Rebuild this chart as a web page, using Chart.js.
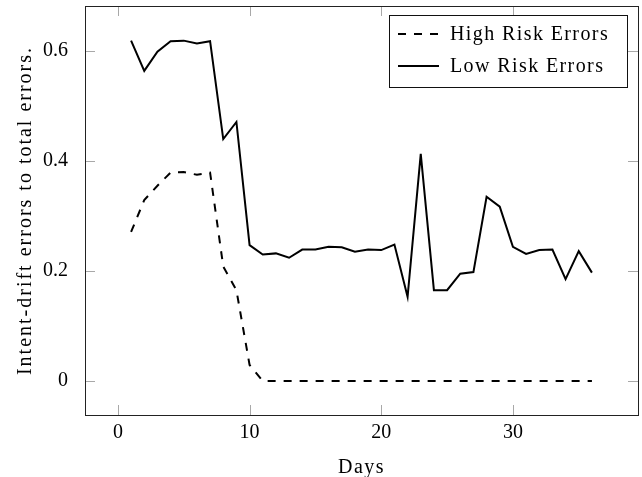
<!DOCTYPE html>
<html>
<head>
<meta charset="utf-8">
<script src="https://cdn.jsdelivr.net/npm/chart.js@4.4.1/dist/chart.umd.min.js"></script>
<style>
  html, body { margin: 0; padding: 0; background: #ffffff; }
  #wrap { width: 642px; height: 477px; }
</style>
</head>
<body>
<div id="wrap"><canvas id="c" width="642" height="477"></canvas></div>
<script>
const days = [1,2,3,4,5,6,7,8,9,10,11,12,13,14,15,16,17,18,19,20,21,22,23,24,25,26,27,28,29,30,31,32,33,34,35,36];
const highRisk = [0.271,0.329,0.355,0.379,0.380,0.375,0.379,0.208,0.165,0.029,0,0,0,0,0,0,0,0,0,0,0,0,0,0,0,0,0,0,0,0,0,0,0,0,0,0];
const lowRisk = [0.619,0.564,0.599,0.618,0.619,0.614,0.618,0.440,0.471,0.247,0.230,0.232,0.224,0.239,0.239,0.244,0.243,0.235,0.239,0.238,0.248,0.153,0.413,0.165,0.165,0.195,0.198,0.335,0.317,0.244,0.231,0.238,0.239,0.185,0.236,0.197];
const xTicks = [0,10,20,30];
const yTicks = [0,0.2,0.4,0.6];
const seriesNames = ['High Risk Errors','Low Risk Errors'];
const xTitle = 'Days';
const yTitle = 'Intent-drift errors to total errors.';

const FONT = '"Liberation Serif", "Times New Roman", serif';

function toPoints(ys) { return days.map((d, i) => ({x: d, y: ys[i]})); }

const framePlugin = {
  id: 'frame',
  afterDatasetsDraw(chart) {
    const ctx = chart.ctx;
    const a = chart.chartArea;
    const xs = chart.scales.x, ys = chart.scales.y;
    ctx.save();
    // inner ticks
    ctx.strokeStyle = '#a8a8a8';
    ctx.lineWidth = 1;
    const tl = 10;
    ctx.beginPath();
    xTicks.forEach(v => {
      const px = Math.round(xs.getPixelForValue(v)) + 0.5;
      ctx.moveTo(px, a.bottom); ctx.lineTo(px, a.bottom - tl);
      ctx.moveTo(px, a.top); ctx.lineTo(px, a.top + tl);
    });
    yTicks.forEach(v => {
      const py = Math.round(ys.getPixelForValue(v)) + 0.5;
      ctx.moveTo(a.left, py); ctx.lineTo(a.left + tl, py);
      ctx.moveTo(a.right, py); ctx.lineTo(a.right - tl, py);
    });
    ctx.stroke();
    // frame
    ctx.strokeStyle = '#222';
    ctx.lineWidth = 1;
    ctx.strokeRect(Math.round(a.left) + 0.5, Math.round(a.top) + 0.5, Math.round(a.right - a.left), Math.round(a.bottom - a.top));

    // legend
    const lx = a.right - 11 - 238, ly = a.top + 9, lw = 238, lh = 72;
    ctx.fillStyle = '#fff';
    ctx.fillRect(lx, ly, lw, lh);
    ctx.strokeStyle = '#111';
    ctx.strokeRect(Math.round(lx) + 0.5, Math.round(ly) + 0.5, lw, lh);
    const rows = [ly + 19, ly + 51];
    chart.data.datasets.forEach((ds, i) => {
      const ry = rows[i];
      ctx.beginPath();
      ctx.strokeStyle = '#000';
      ctx.lineWidth = 2;
      ctx.setLineDash(ds.borderDash || []);
      ctx.moveTo(lx + 9, ry); ctx.lineTo(lx + 50, ry);
      ctx.stroke();
      ctx.setLineDash([]);
      ctx.fillStyle = '#000';
      ctx.font = '20px ' + FONT;
      ctx.textBaseline = 'middle';
      ctx.textAlign = 'left';
      try { ctx.letterSpacing = '1.4px'; } catch (e) {}
      ctx.fillText(ds.label, lx + 61, ry + 1);
      try { ctx.letterSpacing = '0px'; } catch (e) {}
    });

    // axis titles
    ctx.fillStyle = '#000';
    ctx.font = '20px ' + FONT;
    ctx.textAlign = 'center';
    ctx.textBaseline = 'alphabetic';
    try { ctx.letterSpacing = '1.5px'; } catch (e) {}
    ctx.fillText(xTitle, (a.left + a.right) / 2, 473);
    try { ctx.letterSpacing = '2px'; } catch (e) {}
    ctx.save();
    ctx.translate(31, (a.top + a.bottom) / 2);
    ctx.rotate(-Math.PI / 2);
    ctx.fillText(yTitle, 0, 0);
    ctx.restore();
    try { ctx.letterSpacing = '0px'; } catch (e) {}
    ctx.restore();
  }
};

new Chart(document.getElementById('c'), {
  type: 'line',
  data: {
    datasets: [
      { label: seriesNames[0], data: toPoints(highRisk), borderColor: '#000', borderWidth: 2, borderDash: [8, 8], pointRadius: 0, tension: 0, fill: false, borderJoinStyle: 'miter' },
      { label: seriesNames[1], data: toPoints(lowRisk), borderColor: '#000', borderWidth: 2, pointRadius: 0, tension: 0, fill: false, borderJoinStyle: 'miter' }
    ]
  },
  options: {
    responsive: false,
    animation: false,
    devicePixelRatio: 1,
    layout: { padding: { top: 6, right: 4, left: 0, bottom: 0 } },
    plugins: { legend: { display: false }, tooltip: { enabled: false }, title: { display: false } },
    scales: {
      x: {
        type: 'linear', min: -2.5, max: 39.5,
        afterBuildTicks(s) { s.ticks = xTicks.map(v => ({value: v})); },
        afterFit(s) { s.height = 62; s.paddingLeft = 0; s.paddingRight = 0; s.paddingTop = 0; s.paddingBottom = 0; },
        grid: { display: false, drawTicks: false },
        border: { display: false },
        ticks: { color: '#000', font: { family: FONT, size: 20 }, padding: 6, maxRotation: 0, callback: v => String(v) }
      },
      y: {
        type: 'linear', min: -0.062, max: 0.682,
        afterBuildTicks(s) { s.ticks = yTicks.map(v => ({value: v})); },
        afterFit(s) { s.width = 85; s.paddingLeft = 0; s.paddingRight = 0; s.paddingTop = 0; s.paddingBottom = 0; },
        grid: { display: false, drawTicks: false },
        border: { display: false },
        ticks: { color: '#000', font: { family: FONT, size: 20 }, padding: 17, callback: v => String(Math.round(v * 10) / 10) }
      }
    }
  },
  plugins: [framePlugin]
});
</script>
</body>
</html>
